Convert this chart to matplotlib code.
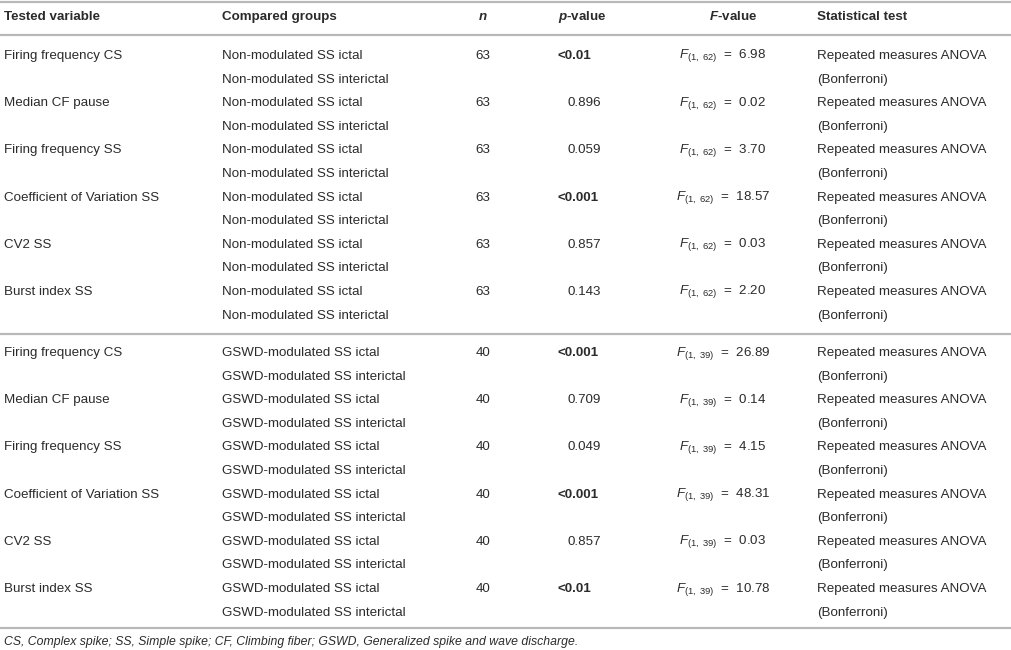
import matplotlib
matplotlib.use("Agg")
import matplotlib.pyplot as plt

plt.rcParams['font.family'] = ['Liberation Sans', 'DejaVu Sans']
plt.rcParams['mathtext.fontset'] = 'custom'
plt.rcParams['mathtext.rm'] = 'Liberation Sans'
plt.rcParams['mathtext.it'] = 'Liberation Sans:italic'
plt.rcParams['mathtext.bf'] = 'Liberation Sans:bold'
plt.rcParams['mathtext.bfit'] = 'Liberation Sans:bold:italic'

# ---- data ----
headers = ["Tested variable", "Compared groups", "n", "p-value", "F-value", "Statistical test"]
variables = ["Firing frequency CS", "Median CF pause", "Firing frequency SS",
             "Coefficient of Variation SS", "CV2 SS", "Burst index SS"]
groups_block1 = ["Non-modulated SS ictal", "Non-modulated SS interictal"]
groups_block2 = ["GSWD-modulated SS ictal", "GSWD-modulated SS interictal"]
n_block1 = 63
n_block2 = 40
p_block1 = ["<0.01", "0.896", "0.059", "<0.001", "0.857", "0.143"]
p_block2 = ["<0.001", "0.709", "0.049", "<0.001", "0.857", "<0.01"]
F_block1 = ["6.98", "0.02", "3.70", "18.57", "0.03", "2.20"]
F_block2 = ["26.89", "0.14", "4.15", "48.31", "0.03", "10.78"]
df_block1 = (1, 62)
df_block2 = (1, 39)
test_lines = ["Repeated measures ANOVA", "(Bonferroni)"]
footnote = ("CS, Complex spike; SS, Simple spike; CF, Climbing fiber; "
            "GSWD, Generalized spike and wave discharge.")

# ---- layout ----
W, H = 1012, 650
fig = plt.figure(figsize=(W / 100, H / 100), dpi=100)
ax = fig.add_axes([0, 0, 1, 1])
ax.set_xlim(0, W)
ax.set_ylim(H, 0)
ax.axis('off')

txt = '#2b2b2b'
line_c = '#b8b8b8'
fs = 9.6

x_var, x_grp, x_n, x_p, x_F, x_test = 4, 222, 483, 558, 723, 817

for y in (1.5, 35, 334, 628):
    ax.plot([0, W], [y, y], color=line_c, lw=1.6, solid_capstyle='butt')

hy = 17
ax.text(x_var, hy, headers[0], fontsize=fs, fontweight='bold', color=txt, va='center')
ax.text(x_grp, hy, headers[1], fontsize=fs, fontweight='bold', color=txt, va='center')
ax.text(x_n, hy, headers[2], fontsize=fs, fontweight='bold', style='italic', color=txt,
        va='center', ha='center')
ax.text(582, hy, r"$\mathbfit{p}$" + "-value", fontsize=fs, fontweight='bold', color=txt,
        va='center', ha='center')
ax.text(733, hy, r"$\mathbfit{F}$" + "-value", fontsize=fs, fontweight='bold', color=txt,
        va='center', ha='center')
ax.text(x_test, hy, headers[5], fontsize=fs, fontweight='bold', color=txt, va='center')

row_step = 47.2
sub_step = 23.6


def draw_block(y0, groups, n, pvals, fvals, df):
    for i, var in enumerate(variables):
        y = y0 + i * row_step
        ax.text(x_var, y, var, fontsize=fs, color=txt, va='center')
        ax.text(x_grp, y, groups[0], fontsize=fs, color=txt, va='center')
        ax.text(x_grp, y + sub_step, groups[1], fontsize=fs, color=txt, va='center')
        ax.text(x_n, y, str(n), fontsize=fs, color=txt, va='center', ha='center')
        p = pvals[i]
        if p.startswith('<'):
            ax.text(x_p, y, p, fontsize=fs, fontweight='bold', color=txt, va='center')
        else:
            ax.text(x_p + 10, y, p, fontsize=fs, color=txt, va='center')
        ftxt = r"$F_{(%d,\ %d)}$" % (df[0], df[1]) + "  =  " + fvals[i]
        ax.text(x_F, y, ftxt, fontsize=fs, color=txt, va='center', ha='center')
        ax.text(x_test, y, test_lines[0], fontsize=fs, color=txt, va='center')
        ax.text(x_test, y + sub_step, test_lines[1], fontsize=fs, color=txt, va='center')


draw_block(56, groups_block1, n_block1, p_block1, F_block1, df_block1)
draw_block(353, groups_block2, n_block2, p_block2, F_block2, df_block2)

ax.text(x_var, 642, footnote, fontsize=8.8, style='italic', color=txt, va='center')

fig.savefig('out.png', dpi=100)
